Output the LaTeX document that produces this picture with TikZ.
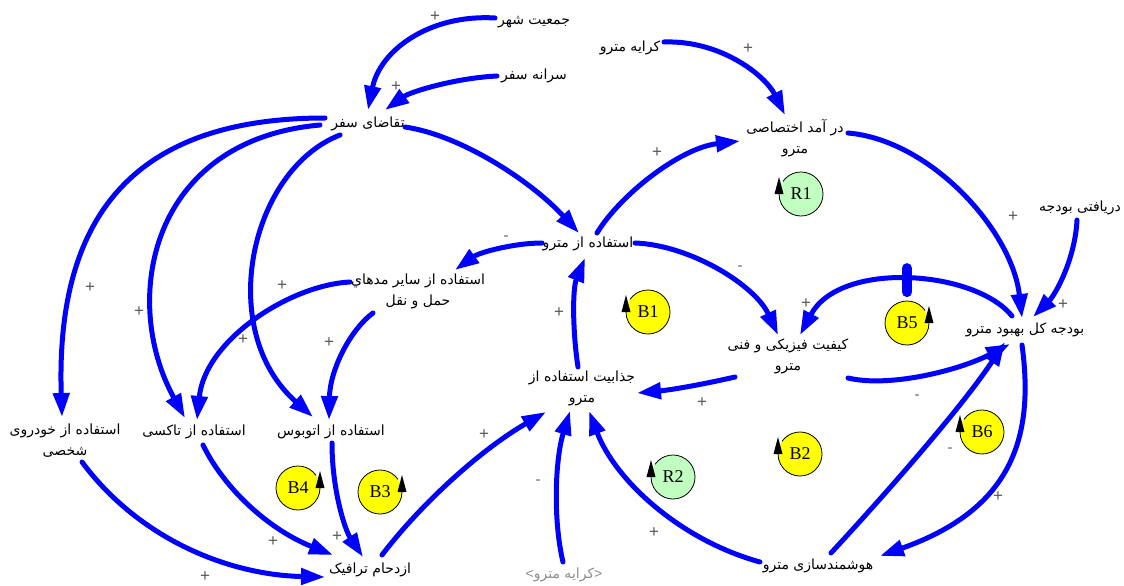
\documentclass[tikz,border=0pt]{standalone}
\usepackage{fontspec}
\usetikzlibrary{arrows.meta,calc}
\TeXXeTstate=1
\newfontfamily\fafont[Script=Arabic]{DejaVu Sans}
\newfontfamily\serfont{Liberation Serif}
\newfontfamily\sgnfont{Liberation Sans}
\newcommand{\fatext}[1]{\beginR #1\endR}
\definecolor{linkblue}{RGB}{0,0,255}
\definecolor{loopyellow}{RGB}{255,255,0}
\definecolor{loopgreen}{RGB}{192,255,192}
\newcommand{\loopleft}[5]{%
  \node[loopc=#4] (#1) at (#2,#3) {#5};
  \draw[line width=0.8pt] (#1.center) ++(145:22pt) arc[start angle=145, end angle=-180, radius=22pt];
  \fill (#1.center) ++(-22pt,0pt) ++(-4.5pt,0pt) -- ++(9pt,0pt) -- ++(-4.5pt,17pt) -- cycle;
}
\newcommand{\loopright}[5]{%
  \node[loopc=#4] (#1) at (#2,#3) {#5};
  \draw[line width=0.8pt] (#1.center) ++(35:22pt) arc[start angle=35, end angle=360, radius=22pt];
  \fill (#1.center) ++(22pt,0pt) ++(-4.5pt,0pt) -- ++(9pt,0pt) -- ++(-4.5pt,17pt) -- cycle;
}
\begin{document}
\begin{tikzpicture}[x=1pt,y=-1pt,
  var/.style={font=\fafont\fontsize{14}{21}\selectfont, align=center, inner sep=1pt},
  link/.style={draw=linkblue, line width=5pt, line cap=round, -{Triangle[length=24pt,width=16pt]}},
  sign/.style={font=\sgnfont\fontsize{17}{17}\selectfont, text=black!65, inner sep=0pt},
  neg/.style={font=\sgnfont\fontsize{15}{15}\selectfont, text=black!65, inner sep=0pt},
  loopc/.style={circle, minimum size=44pt, inner sep=0pt, fill=#1, font=\serfont\fontsize{18}{18}\selectfont}
]
\useasboundingbox (0,0) rectangle (1124,586);

% variables
\node[var] (pop) at (534,22) {\fatext{جمعیت شهر}};
\node[var] (trip) at (534,76) {\fatext{سرانه سفر}};
\node[var] (fare) at (630,48) {\fatext{کرایه مترو}};
\node[var] (dem) at (368,124) {\fatext{تقاضای سفر}};
\node[var] (rev) at (795,138) {\fatext{در آمد اختصاصی}\\\fatext{مترو}};
\node[var] (recv) at (1080,208) {\fatext{دریافتی بودجه}};
\node[var] (use) at (588,244) {\fatext{استفاده از مترو}};
\node[var] (other) at (418,291) {\fatext{استفاده از سایر مدهاي}\\\fatext{حمل و نقل}};
\node[var] (qual) at (788,356) {\fatext{کیفیت فیزیکی و فنی}\\\fatext{مترو}};
\node[var] (bud) at (1025,330) {\fatext{بودجه کل بهبود مترو}};
\node[var] (attr) at (582,388) {\fatext{جذابیت استفاده از}\\\fatext{مترو}};
\node[var] (car) at (65,441) {\fatext{استفاده از خودروی}\\\fatext{شخصی}};
\node[var] (taxi) at (194,432) {\fatext{استفاده از تاکسی}};
\node[var] (bus) at (331,432) {\fatext{استفاده از اتوبوس}};
\node[var] (cong) at (370,570) {\fatext{ازدحام ترافیک}};
\node[var, text=black!45] (fare2) at (564,575) {{\sgnfont<}\fatext{کرایه مترو}{\sgnfont>}};
\node[var] (smart) at (818,566) {\fatext{هوشمندسازی مترو}};

% links
\draw[link] ($(pop)+(-39,-4)$) .. controls (430,14) and (380,50) .. ($(dem)+(0,-14)$);
\draw[link] ($(trip)+(-37,0)$) .. controls (455,78) and (410,92) .. ($(dem)+(17,-14)$);
\draw[link] ($(fare)+(34,-6)$) .. controls (720,40) and (765,75) .. ($(rev)+(-10,-23)$);
\draw[link] ($(dem)+(37,3)$) .. controls (460,135) and (530,180) .. ($(use)+(-9,-11)$);
\draw[link] ($(use)+(9,-11)$) .. controls (620,195) and (680,148) .. ($(rev)+(-55,3)$);
\draw[link] ($(rev)+(53,-5)$) .. controls (930,140) and (1012,230) .. ($(bud)+(-3,-12)$);
\draw[link] ($(recv)+(-3,12)$) .. controls (1075,260) and (1055,295) .. ($(bud)+(8,-13)$);
\draw[link] ($(use)+(47,-1)$) .. controls (690,245) and (755,285) .. ($(qual)+(-10,-21)$);
\draw[link] ($(bud)+(-13,-14)$) .. controls (975,270) and (840,260) .. ($(qual)+(12,-21)$) coordinate[pos=0.5] (dly);
\draw[draw=linkblue, line width=10pt, line cap=round] ([yshift=12pt]dly) -- ([yshift=-12pt]dly);
\draw[link] ($(qual)+(60,22)$) .. controls (890,388) and (960,370) .. ($(bud)+(-15,14)$);
\draw[link] ($(qual)+(-53,21)$) .. controls (700,385) and (670,390) .. ($(attr)+(55,5)$);
\draw[link] ($(attr)+(-4,-21)$) .. controls (573,335) and (572,290) .. ($(use)+(-3,14)$);
\draw[link] ($(use)+(-46,-1)$) .. controls (515,243) and (480,252) .. ($(other)+(37,-21)$);
\draw[link] ($(other)+(-68,-9)$) .. controls (290,285) and (205,340) .. ($(taxi)+(3,-12)$);
\draw[link] ($(other)+(-45,22)$) .. controls (350,330) and (330,370) .. ($(bus)+(-2,-12)$);
\draw[link] ($(dem)+(-43,-6)$) .. controls (150,118) and (55,200) .. ($(car)+(-3,-24)$);
\draw[link] ($(dem)+(-48,1)$) .. controls (150,140) and (120,300) .. ($(taxi)+(-9,-14)$);
\draw[link] ($(dem)+(-28,11)$) .. controls (250,170) and (215,330) .. ($(bus)+(-18,-15)$);
\draw[link] ($(car)+(17,21)$) .. controls (140,540) and (230,575) .. ($(cong)+(-45,7)$);
\draw[link] ($(taxi)+(9,13)$) .. controls (225,490) and (270,530) .. ($(cong)+(-37,-15)$);
\draw[link] ($(bus)+(1,11)$) .. controls (332,490) and (345,530) .. ($(cong)+(-7,-13)$);
\draw[link] ($(cong)+(12,-15)$) .. controls (420,505) and (480,450) .. ($(attr)+(-36,24)$);
\draw[link] ($(fare2)+(-1,-13)$) .. controls (553,520) and (555,460) .. ($(attr)+(-12,23)$);
\draw[link] ($(smart)+(-58,-4)$) .. controls (680,540) and (615,480) .. ($(attr)+(7,23)$);
\draw[link] ($(smart)+(13,-13)$) .. controls (880,500) and (960,410) .. ($(bud)+(-20,12)$);
\draw[link] ($(bud)+(-3,15)$) .. controls (1035,440) and (1010,510) .. ($(smart)+(62,-10)$);

% polarity signs
\node[sign] (s1) at (435,17) {+};
\node[sign] (s2) at (396,87) {+};
\node[sign] (s3) at (748,49) {+};
\node[sign] (s5) at (657,153) {+};
\node[sign] (s6) at (1013,217) {+};
\node[sign] (s7) at (1063,305) {+};
\node[neg] (s8) at (740,268) {-};
\node[sign] (s9) at (806,304) {+};
\node[neg] (s10) at (917,397) {-};
\node[sign] (s11) at (702,403) {+};
\node[sign] (s12) at (559,313) {+};
\node[neg] (s13) at (506,238) {-};
\node[sign] (s14) at (243,340) {+};
\node[sign] (s15) at (329,343) {+};
\node[sign] (s16) at (90,288) {+};
\node[sign] (s17) at (139,312) {+};
\node[sign] (s18) at (282,286) {+};
\node[sign] (s19) at (205,577) {+};
\node[sign] (s20) at (273,542) {+};
\node[sign] (s21) at (337,537) {+};
\node[sign] (s22) at (484,435) {+};
\node[neg] (s23) at (538,482) {-};
\node[sign] (s24) at (654,533) {+};
\node[neg] (s25) at (950,450) {-};
\node[sign] (s26) at (998,497) {+};

% loop markers
\loopleft{R1}{801}{194}{loopgreen}{R1}
\loopleft{B1}{648}{312}{loopyellow}{B1}
\loopright{B5}{907}{323}{loopyellow}{B5}
\loopleft{B6}{982}{432}{loopyellow}{B6}
\loopleft{B2}{800}{454}{loopyellow}{B2}
\loopleft{R2}{673}{477}{loopgreen}{R2}
\loopright{B4}{298}{488}{loopyellow}{B4}
\loopright{B3}{380}{492}{loopyellow}{B3}
\end{tikzpicture}
\end{document}
